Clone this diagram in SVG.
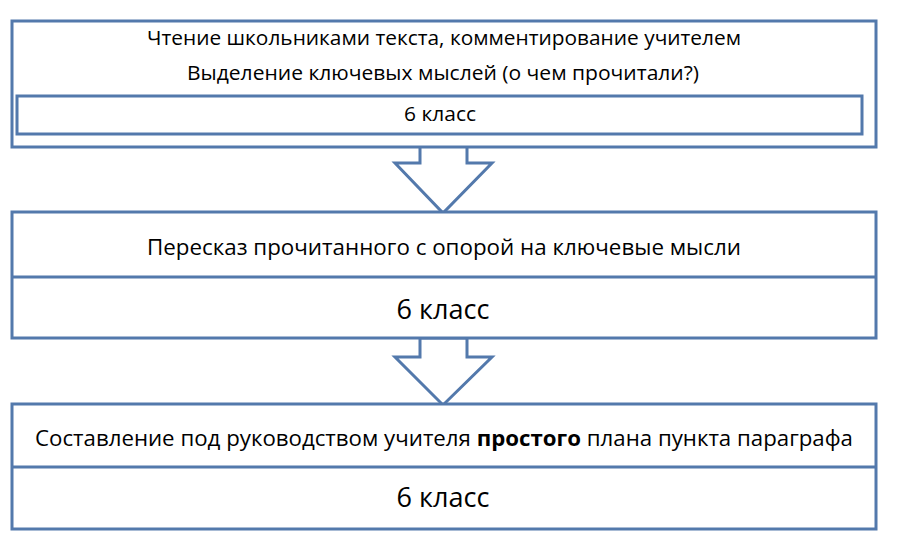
<svg xmlns="http://www.w3.org/2000/svg" width="903" height="551" viewBox="0 0 903 551">
<style>
.b{fill:#fff;stroke:#5379ac;stroke-width:3}
.l{stroke:#5379ac;stroke-width:3}
.t{font-family:"Open Sans","Liberation Sans",sans-serif;fill:#000;text-anchor:middle}
</style>
<rect width="903" height="551" fill="#fff"/>
<g id="connectors">
<polygon class="b" points="420,146 420,163 395,163 443,213 492,163 467,163 467,146"/>
<polygon class="b" points="420,338 420,357 395,357 443,405 492,357 467,357 467,338"/>
</g>
<g id="n1">
<rect class="b" x="12" y="21" width="864" height="126"/>
<rect class="b" x="17" y="96" width="845" height="38"/>
<text class="t" x="444" y="45" font-size="20" textLength="594" lengthAdjust="spacingAndGlyphs">Чтение школьниками текста, комментирование учителем</text>
<text class="t" x="443" y="80" font-size="20" textLength="512" lengthAdjust="spacingAndGlyphs">Выделение ключевых мыслей (о чем прочитали?)</text>
<text class="t" x="440" y="121" font-size="20" textLength="72" lengthAdjust="spacingAndGlyphs">6 класс</text>
</g>
<g id="n2">
<rect class="b" x="12" y="212" width="864" height="126"/>
<line class="l" x1="12" y1="277" x2="876" y2="277"/>
<text class="t" x="444" y="255" font-size="21" textLength="594" lengthAdjust="spacingAndGlyphs">Пересказ прочитанного с опорой на ключевые мысли</text>
<text class="t" x="443" y="319" font-size="27" textLength="93" lengthAdjust="spacingAndGlyphs">6 класс</text>
</g>
<g id="n3">
<rect class="b" x="12" y="404" width="864" height="125"/>
<line class="l" x1="12" y1="467" x2="876" y2="467"/>
<text class="t" x="444" y="446" font-size="21" textLength="818" lengthAdjust="spacingAndGlyphs">Составление под руководством учителя <tspan font-weight="bold">простого</tspan> плана пункта параграфа</text>
<text class="t" x="443" y="507" font-size="27" textLength="93" lengthAdjust="spacingAndGlyphs">6 класс</text>
</g>
</svg>
